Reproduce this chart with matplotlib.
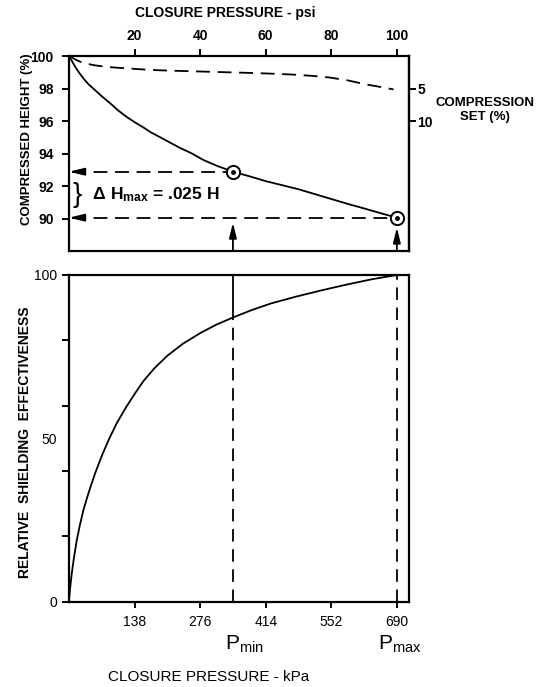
import matplotlib
matplotlib.use('Agg')
import matplotlib.pyplot as plt
import numpy as np

plt.rcParams['font.family'] = ['Liberation Sans', 'DejaVu Sans']
plt.rcParams['mathtext.fontset'] = 'custom'
plt.rcParams['mathtext.rm'] = 'Liberation Sans'
plt.rcParams['mathtext.bf'] = 'Liberation Sans:bold'
plt.rcParams['lines.scale_dashes'] = False

# ---------------- data ----------------
# top panel: compressed height (%) vs closure pressure (psi)
psi_h = [0, 0.5, 1, 2, 3, 4.4, 6, 7.4, 10, 12.5, 15, 17.6, 20, 22.7, 25, 27.8, 31, 34,
         37.5, 41, 45, 50, 55, 60, 65, 70, 75, 80, 85, 90, 95, 100]
height = [100, 99.82, 99.65, 99.3, 99.0, 98.62, 98.25, 98.0, 97.52, 97.1, 96.65, 96.25,
          95.93, 95.6, 95.3, 95.0, 94.65, 94.33, 94.0, 93.6, 93.25, 92.88, 92.6, 92.3,
          92.05, 91.8, 91.5, 91.2, 90.9, 90.62, 90.33, 90.05]

# top panel dashed: compression set (%) vs closure pressure (psi)
psi_cs = [0, 1, 2, 3.4, 5, 7.4, 10, 14, 17.6, 22, 27.8, 34, 41, 48, 55, 62, 68, 74,
          79.4, 85, 90.9, 96, 99]
comp_set = [0, 0.28, 0.55, 0.88, 1.12, 1.4, 1.58, 1.78, 1.9, 2.05, 2.2, 2.3, 2.4, 2.5,
            2.6, 2.72, 2.85, 3.05, 3.3, 3.75, 4.4, 4.85, 5.15]

# operating points (psi, height)
p_points = [50, 100]
h_points = [92.88, 90.05]

# bottom panel: relative shielding effectiveness vs closure pressure (kPa)
kpa = [0, 1, 3, 6, 10, 16, 23, 30, 38, 45, 55, 70, 85, 100, 120, 140, 157, 180, 207,
       240, 277, 310, 345, 385, 425, 478, 531, 585, 637, 665, 690]
shield = [0, 2, 5, 8.8, 13, 18.5, 23.5, 27.8, 31.8, 35, 39.3, 45, 50, 54.5, 59.5, 64,
          67.6, 71.5, 75.3, 79, 82.3, 84.8, 87, 89.3, 91.3, 93.4, 95.3, 97.1, 98.7,
          99.4, 100]
p_min = 345
p_max = 690

psi_ticks = [20, 40, 60, 80, 100]
kpa_ticks = [138, 276, 414, 552, 690]
h_ticks = [90, 92, 94, 96, 98, 100]
cs_ticks = [5, 10]

PSI_MAX = 103.7
KPA_PER_PSI = 6.895

W, H = 555, 687


def fx(x):
    return x / W


def fy(y):
    return 1 - y / H


def h_to_cs(h):
    return 2.5 * (100 - np.asarray(h, dtype=float))


def cs_to_h(c):
    return 100 - np.asarray(c, dtype=float) / 2.5


fig = plt.figure(figsize=(5.55, 6.87), dpi=100)
arrow = dict(arrowstyle='-|>,head_length=0.9,head_width=0.22',
             color='black', lw=1.3, shrinkA=0, shrinkB=0)

################################ TOP PANEL ################################
ax1 = fig.add_axes([fx(69), fy(251), fx(340), 195 / H])
ax1.set_xlim(0, PSI_MAX)
ax1.set_ylim(88, 100)

ax1.plot(psi_h, height, color='black', lw=1.3, zorder=3)
ax1.plot(psi_cs, cs_to_h(comp_set), color='black', lw=1.3, dashes=(10, 5.5), zorder=3)

for p, h in zip(p_points, h_points):
    ax1.plot([0.9, p], [h, h], color='black', lw=1.3, dashes=(10, 5.5), zorder=2)
    ax1.annotate('', xy=(0, h), xytext=(4.5, h), arrowprops=arrow)
# vertical arrows from the bottom axis
ax1.annotate('', xy=(p_points[0], 89.75), xytext=(p_points[0], 88), arrowprops=arrow)
ax1.annotate('', xy=(p_points[1], 89.45), xytext=(p_points[1], 88), arrowprops=arrow)

ax1.plot(p_points, h_points, 'o', ms=9.5, mfc='white', mec='black', mew=1.4, zorder=5)
ax1.plot(p_points, h_points, 'o', ms=2.5, mfc='black', mec='black', zorder=6)

ax1.xaxis.tick_top()
ax1.set_xticks(psi_ticks)
ax1.set_yticks(h_ticks)
ax1.tick_params(direction='out', length=5, width=1.4, labelsize=10, pad=4)
ax1.tick_params(axis='y', pad=6)
for lab in ax1.get_xticklabels() + ax1.get_yticklabels():
    lab.set_fontweight('bold')
for s in ax1.spines.values():
    s.set_linewidth(1.6)

sec = ax1.secondary_yaxis('right', functions=(h_to_cs, cs_to_h))
sec.set_yticks(cs_ticks)
sec.tick_params(direction='out', length=5, width=1.4, labelsize=10, pad=1)
for lab in sec.get_yticklabels():
    lab.set_fontweight('bold')
sec.spines['right'].set_linewidth(1.6)

################################ BOTTOM PANEL ################################
ax2 = fig.add_axes([fx(69), fy(601.5), fx(340), 326.5 / H])
ax2.set_xlim(0, PSI_MAX * KPA_PER_PSI)
ax2.set_ylim(0, 100)

ax2.plot(kpa, shield, color='black', lw=1.3, zorder=3)
se_min = shield[kpa.index(p_min)]
ax2.plot([p_min, p_min], [se_min, 100], color='black', lw=1.3)
ax2.plot([p_min, p_min], [0, se_min], color='black', lw=1.3, dashes=(9, 5.5))
ax2.plot([p_max, p_max], [0, 100], color='black', lw=1.3, dashes=(9, 5.5))

ax2.set_xticks(kpa_ticks)
ax2.set_yticks([0, 20, 40, 60, 80, 100])
ax2.set_yticklabels(['0', '', '', '', '', '100'])
ax2.set_yticks([50], minor=True)
ax2.set_yticklabels(['50'], minor=True)
ax2.tick_params(direction='out', length=5, width=1.4, labelsize=10)
ax2.tick_params(axis='x', length=4, pad=6)
ax2.tick_params(axis='y', which='minor', length=0, pad=9, labelsize=10)
for s in ax2.spines.values():
    s.set_linewidth(1.6)

################################ TEXTS ################################
fig.text(fx(225), fy(13), 'CLOSURE PRESSURE - psi', ha='center', va='center',
         fontsize=10, fontweight='bold')
fig.text(fx(27), fy(139), 'COMPRESSED HEIGHT (%)', ha='center', va='center',
         rotation=90, fontsize=9.5, fontweight='bold')
fig.text(fx(485), fy(110), 'COMPRESSION\nSET (%)', ha='center', va='center',
         fontsize=9.5, fontweight='bold', linespacing=1.3)
fig.text(fx(77), fy(195), '}', ha='center', va='center', fontsize=20)
fig.text(fx(92), fy(199), r'$\mathbf{\Delta\ H_{max}}$' + ' = .025 H', ha='left',
         va='baseline', fontsize=12.5, fontweight='bold')
fig.text(fx(25), fy(442), 'RELATIVE  SHIELDING  EFFECTIVENESS', ha='center', va='center',
         rotation=90, fontsize=10, fontweight='bold')
fig.text(fx(225), fy(650), r'$\mathrm{P_{min}}$', ha='left', va='baseline', fontsize=15)
fig.text(fx(378), fy(650), r'$\mathrm{P_{max}}$', ha='left', va='baseline', fontsize=15)
fig.text(fx(209), fy(677), 'CLOSURE PRESSURE - kPa', ha='center', va='center',
         fontsize=11)

fig.savefig('out.png', dpi=100)
